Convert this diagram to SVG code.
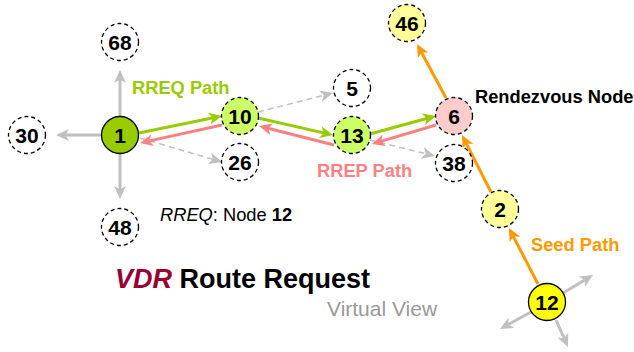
<svg xmlns="http://www.w3.org/2000/svg" width="634" height="352" viewBox="0 0 634 352">
<style>
text{font-family:"Liberation Sans",Arial,Helvetica,sans-serif}
.n circle{stroke:#000;stroke-width:1.3;stroke-dasharray:4,3}
.n circle.s{stroke-dasharray:none}
.n text{font-size:21px;font-weight:bold;text-anchor:middle;fill:#000}
.gs{stroke:#c0c0c0;stroke-width:3;fill:none;marker-end:url(#mg)}
.gd{stroke:#c0c0c0;stroke-width:1.5;stroke-dasharray:6,4;fill:none;marker-end:url(#mg)}
.gr{stroke:#99cc00;stroke-width:3;fill:none;marker-end:url(#mgr)}
.pk{stroke:#ff8080;stroke-width:3;fill:none;marker-end:url(#mpk)}
.or{stroke:#ff9900;stroke-width:3;fill:none;marker-end:url(#mor)}
.lbl{font-size:18.3px;font-weight:bold}
</style>
<defs>
<marker id="mg" viewBox="0 0 13 12" markerWidth="13" markerHeight="12" refX="9" refY="6" orient="auto" markerUnits="userSpaceOnUse"><path d="M0,0 L13,6 L0,12 L3.5,6 z" fill="#c0c0c0"/></marker>
<marker id="mgr" viewBox="0 0 13 12" markerWidth="13" markerHeight="12" refX="9" refY="6" orient="auto" markerUnits="userSpaceOnUse"><path d="M0,0 L13,6 L0,12 L3.5,6 z" fill="#99cc00"/></marker>
<marker id="mpk" viewBox="0 0 13 12" markerWidth="13" markerHeight="12" refX="9" refY="6" orient="auto" markerUnits="userSpaceOnUse"><path d="M0,0 L13,6 L0,12 L3.5,6 z" fill="#ff8080"/></marker>
<marker id="mor" viewBox="0 0 13 12" markerWidth="13" markerHeight="12" refX="9" refY="6" orient="auto" markerUnits="userSpaceOnUse"><path d="M0,0 L13,6 L0,12 L3.5,6 z" fill="#ff9900"/></marker>
</defs>
<g id="connectors">
<path class="gs" d="M120,117 L120,74"/>
<path class="gs" d="M102,135 L60,135"/>
<path class="gs" d="M120,153 L120,195"/>
<path class="gd" d="M140,138 L218.2,160.9"/>
<path class="gd" d="M258,112 L329.1,94"/>
<path class="gd" d="M370,140 L431.1,155"/>
<path class="gr" d="M139,133 L218.1,116.8"/>
<path class="gr" d="M258,118 L329.1,134.1"/>
<path class="gr" d="M370,134 L432.1,117"/>
<path class="pk" d="M222,125 L143.9,142.1"/>
<path class="pk" d="M334,145 L262.9,127"/>
<path class="pk" d="M436,125 L375.8,142.9"/>
<path class="or" d="M446,98 L418.9,47.5"/>
<path class="or" d="M491,192 L463.8,138.6"/>
<path class="or" d="M538,284 L510.8,231.6"/>
<path class="gs" d="M563,293 L589.6,277.1"/>
<path class="gs" d="M531,312 L503.5,327.1"/>
<path class="gs" d="M556,320 L566.4,343.3"/>
</g>
<g id="node-68" class="n"><circle cx="120" cy="42" r="18.5" fill="#fff"/><text x="120" y="49.5">68</text></g>
<g id="node-30" class="n"><circle cx="27" cy="135" r="18.5" fill="#fff"/><text x="27" y="142.5">30</text></g>
<g id="node-48" class="n"><circle cx="120" cy="227" r="18.5" fill="#fff"/><text x="120" y="234.5">48</text></g>
<g id="node-1" class="n"><circle class="s" cx="120" cy="135" r="18.5" fill="#99cc00"/><text x="120" y="142.5">1</text></g>
<g id="node-10" class="n"><circle cx="240" cy="116" r="18.5" fill="#ccff66"/><text x="240" y="123.5">10</text></g>
<g id="node-26" class="n"><circle cx="240" cy="162" r="18.5" fill="#fff"/><text x="240" y="169.5">26</text></g>
<g id="node-5" class="n"><circle cx="352" cy="88" r="18.5" fill="#fff"/><text x="352" y="95.5">5</text></g>
<g id="node-13" class="n"><circle cx="352" cy="135" r="18.5" fill="#ccff66"/><text x="352" y="142.5">13</text></g>
<g id="node-6" class="n"><circle cx="454" cy="116" r="18.5" fill="#ffcccc"/><text x="454" y="123.5">6</text></g>
<g id="node-38" class="n"><circle cx="454" cy="163" r="18.5" fill="#fff"/><text x="454" y="170.5">38</text></g>
<g id="node-46" class="n"><circle cx="407" cy="23" r="18.5" fill="#ffff99"/><text x="407" y="30.5">46</text></g>
<g id="node-2" class="n"><circle cx="500" cy="209" r="18.5" fill="#ffff99"/><text x="500" y="216.5">2</text></g>
<g id="node-12" class="n"><circle class="s" cx="547" cy="302" r="18.5" fill="#ffff00"/><text x="547" y="309.5">12</text></g>
<g id="labels">
<text class="lbl" x="132" y="94" fill="#99cc00">RREQ Path</text>
<text class="lbl" x="317" y="177" fill="#ff8080">RREP Path</text>
<text class="lbl" x="475" y="103" fill="#000">Rendezvous Node</text>
<text class="lbl" x="531" y="251" fill="#ff9900">Seed Path</text>
<text x="160" y="221" font-size="18.3" fill="#000"><tspan font-style="italic">RREQ</tspan>: Node <tspan font-weight="bold">12</tspan></text>
<text x="115" y="288" font-size="27" font-weight="bold" fill="#000"><tspan font-style="italic" fill="#990033">VDR</tspan> Route Request</text>
<text x="327" y="316" font-size="21" fill="#999">Virtual View</text>
</g>
</svg>
